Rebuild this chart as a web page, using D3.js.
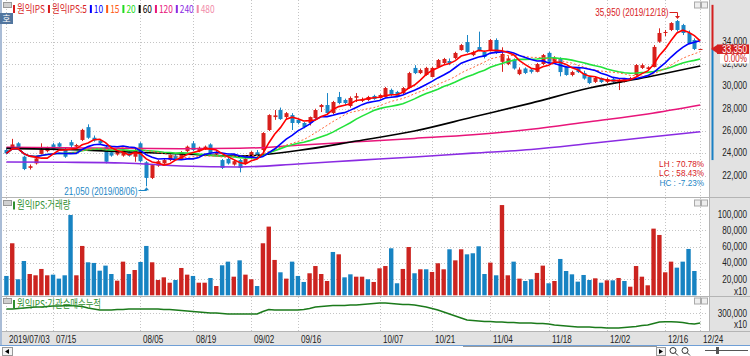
<!DOCTYPE html>
<html><head><meta charset="utf-8">
<script src="https://cdn.jsdelivr.net/npm/d3@7"></script>
<style>html,body{margin:0;padding:0;background:#fff;}svg{display:block;}</style>
</head><body><svg id="chart" width="750" height="356"></svg>
<script>
// ---------- DATA ----------
const stockName = "원익IPS";
const dates = [
"07/03","07/04","07/05","07/08","07/09","07/10","07/11","07/12","07/15","07/16","07/17","07/18","07/19","07/22","07/23","07/24","07/25","07/26","07/29","07/30","07/31",
"08/01","08/02","08/05","08/06","08/07","08/08","08/09","08/12","08/13","08/14","08/16","08/19","08/20","08/21","08/22","08/23","08/26","08/27","08/28","08/29","08/30",
"09/02","09/03","09/04","09/05","09/06","09/09","09/10","09/11","09/16","09/17","09/18","09/19","09/20","09/23","09/24","09/25","09/26","09/27","09/30",
"10/01","10/02","10/04","10/07","10/08","10/10","10/11","10/14","10/15","10/16","10/17","10/18","10/21","10/22","10/23","10/24","10/25","10/28","10/29","10/30","10/31",
"11/01","11/04","11/05","11/06","11/07","11/08","11/11","11/12","11/13","11/14","11/15","11/18","11/19","11/20","11/21","11/22","11/25","11/26","11/27","11/28","11/29",
"12/02","12/03","12/04","12/05","12/06","12/09","12/10","12/11","12/12","12/13","12/16","12/17","12/18","12/19","12/20","12/23","12/24"];
const year = "2019";

const open = [24300,24400,24900,23700,22700,23100,23950,24200,24800,24900,
24400,25000,24600,25200,26350,25400,25150,24560,24100,23900,
23800,24100,23700,24900,23200,21800,22900,23100,23400,23800,
23500,24200,24900,24200,24400,24800,23900,23400,23500,23000,
23400,23100,23670,24100,24300,26090,27250,27880,27250,27430,
26990,26720,26720,27160,28150,28330,27610,29050,28780,28240,
28980,28700,28780,29140,28960,29050,29680,29500,29400,29850,
31650,31190,31020,30840,31730,32090,32270,32540,33250,33970,
32800,33520,33080,33250,34150,32200,32000,32400,31100,31600,
31500,31300,32000,33000,32200,32540,31730,31020,31650,31200,
30840,30400,30750,30400,30650,30300,30400,30600,31020,31650,
31550,31730,34000,34780,35050,35850,35490,34780,34150,33350];
const high = [24450,25300,25000,23800,23000,23650,24900,24600,24950,25000,
24500,25200,24850,26200,26600,25600,25300,24700,24200,24300,
24400,24200,24400,25000,23300,23000,23400,23500,23900,23900,
24200,24700,25100,24600,24700,24900,24200,23500,23600,23400,
23500,23600,24200,24300,25900,27500,27880,28100,27700,27600,
27100,26800,27300,28000,28420,29400,28700,29500,28900,29100,
29400,29000,29150,29250,29300,29950,29800,29600,29950,31300,
31900,31600,31750,31750,32450,32550,32500,33100,33800,34600,
33200,34900,33200,34250,34300,33500,32700,32500,31700,31700,
31600,32100,32900,33100,32700,32600,31800,31400,31750,31400,
30950,30900,30800,30800,30750,30650,30750,30850,32000,32050,
31800,33700,35200,35050,35750,35950,35600,35000,34300,33350];
const low = [23900,24300,24400,22500,22550,23000,23900,24100,24300,24500,
23600,24500,24500,25100,25300,25050,24800,23100,23700,23800,
23700,23700,23250,23200,21050,21700,22800,23000,23300,23400,
23450,24100,24200,24100,24300,23900,23800,22600,23000,22900,
22300,23000,23500,23600,24000,26000,27000,27000,27100,26090,
26600,26250,26500,27100,27700,27550,27500,28400,28300,28100,
28600,28600,28700,28800,28900,29000,29100,29050,29300,29800,
31100,31100,30950,30800,31700,32000,31900,32450,33200,33000,
32700,33150,32500,33150,32900,31300,31900,31500,31000,31100,
31150,31250,31900,32100,32100,30900,30950,30900,31200,30600,
30200,30300,30300,30300,30300,29670,30350,30550,30950,31550,
31450,31700,33900,34500,34950,34900,34600,33800,33250,33350];
const close = [24000,24800,24500,22600,22850,23550,24350,24500,24400,24600,
23700,24700,24750,26100,25400,25150,24900,23250,23800,24200,
24300,23800,24300,23300,21800,22950,23300,23400,23850,23500,
24100,24600,24300,24500,24600,24000,24100,22700,23100,23300,
22700,23500,24120,23800,25820,27430,27400,27070,27600,26720,
26720,26360,27250,27880,28330,27610,28600,28510,28510,28960,
29130,28870,29050,28870,29230,29850,29230,29140,29850,31190,
31190,31460,31650,31650,32360,32450,32090,32990,33700,33080,
33080,33250,32630,34150,33000,32900,32500,31600,31500,31200,
31300,32000,32800,32200,32540,31280,31020,31280,31280,30700,
30300,30750,30390,30650,30400,30500,30650,30750,31910,31900,
31700,33530,34780,34870,35670,35050,34780,33880,33350,33350];

// volume (chart units, x10)
const volume = [23800,64000,19700,42200,26200,24600,32400,24600,25400,20500,
24600,98800,24600,60700,40600,39800,30300,36500,26200,18000,
41400,26200,31100,41000,60700,40600,18800,22100,15500,18800,
33600,25400,23800,15500,15500,21300,11400,36900,41400,22900,
43000,25400,19700,11400,64000,84500,43500,28300,20500,41400,
23800,16400,27100,36000,26200,17600,53300,50400,22100,25800,
22900,22900,19700,16400,33200,36000,57800,14800,32400,59400,
27100,32000,32000,28700,39400,32000,56600,43000,56600,50400,
51700,60300,26200,40200,24600,111000,24600,41400,20500,17600,
19700,27500,36500,14800,17600,44700,29900,25800,16800,25000,
18800,20900,15500,18400,18400,21300,17600,10600,36000,22900,
12300,82000,74200,28300,41400,34000,41400,57000,29900,0];
// volume bar direction: 1 = up (red), -1 = down (blue)
const volDir = [-1,1,-1,-1,1,1,1,1,-1,-1,
-1,-1,1,1,-1,-1,-1,-1,-1,1,
1,-1,1,-1,-1,1,1,1,1,-1,
1,1,-1,1,1,-1,1,-1,-1,1,
-1,1,1,-1,1,1,1,-1,1,-1,
-1,-1,1,1,1,1,-1,1,-1,-1,
1,1,-1,1,1,1,-1,-1,1,1,
-1,1,-1,1,1,1,-1,1,1,-1,
-1,-1,-1,1,-1,1,1,-1,1,-1,
-1,1,1,-1,1,-1,-1,-1,-1,-1,
-1,1,-1,1,-1,1,-1,1,1,1,
1,1,1,1,1,-1,-1,-1,-1,1];

// institutional cumulative net buying (x10)
const instCum = [340000,340000,345000,350000,355000,360000,360000,365000,370000,370000,
373000,375000,370000,365000,350000,340000,330000,330000,330000,335000,
335000,340000,340000,340000,340000,340000,340000,335000,335000,330000,
325000,320000,315000,310000,305000,300000,300000,295000,290000,290000,
290000,290000,290000,290000,315000,335000,330000,330000,330000,330000,
330000,335000,345000,360000,365000,370000,375000,375000,375000,380000,
380000,385000,390000,395000,400000,400000,395000,390000,385000,385000,
380000,370000,360000,345000,330000,310000,290000,270000,250000,230000,
225000,220000,215000,215000,210000,210000,205000,205000,200000,200000,
200000,195000,195000,190000,180000,175000,170000,165000,160000,160000,
160000,155000,155000,150000,150000,150000,155000,160000,165000,175000,
180000,195000,210000,213000,213000,210000,205000,195000,190000,200000];

// long moving averages read at sample points
const longMaIdx = [0,10,20,30,40,50,60,70,80,90,100,110,119];
const ma60  = [24450,24350,24150,23950,23750,24250,25100,26000,27250,28500,29850,30840,31820];
const ma120 = [24550,24500,24450,24420,24450,24720,25030,25340,25660,26150,26840,27530,28330];
const ma240 = [23230,23200,23140,22870,22780,23050,23370,23680,24020,24350,24880,25440,25940];

const priceTicks = [22000,24000,26000,28000,30000,32000,34000];
const volTicks = [20000,40000,60000,80000,100000];
const instTicks = [300000];
const xTickDates = ["07/03","07/15","08/05","08/19","09/02","09/16","10/07","10/21","11/04","11/18","12/02","12/16","12/24"];
const priceGauge = [37300, 23400];

const legendItems = [
  {t:"원익IPS", c:"#d81e1e"}, {t:"원익IPS:5", c:"#d81e1e"}, {t:"10", c:"#0000ff"},
  {t:"15", c:"#ff5a14"}, {t:"20", c:"#22dd22"}, {t:"60", c:"#000000"},
  {t:"120", c:"#e8157a"}, {t:"240", c:"#8a2be2"}, {t:"480", c:"#f28caa"}];

// ---------- DRAW ----------
const svg = d3.select("#chart");
const FN = "'Liberation Sans',Arial,sans-serif";
const FK = "'Noto Sans CJK KR','Noto Sans',sans-serif";
const RED = "#d8201c", BLUE = "#1a86c6";
const PR = 708;
const SQ = 0.74; // horizontal condensing: the original uses a narrow bitmap font

function ntext(parent, xx, yy, str, o){
  o = o || {};
  const f = o.f || SQ;
  const g = parent.append("g").attr("transform",`translate(${xx},${yy}) scale(${f},1)`);
  const t = g.append("text").attr("x",0).attr("y",0)
    .attr("text-anchor",o.anchor||"start")
    .attr("font-family",o.font||FN).attr("font-size",o.size||11)
    .attr("fill",o.fill||"#222").text(str);
  return t.node().getComputedTextLength()*f;
}

const x = d3.scalePoint().domain(dates).range([6.4, 700.2]);
const y = d3.scaleLinear().domain([22000, 34000]).range([175.7, 41.7]);
const yV = d3.scaleLinear().domain([0, 100000]).range([295.3, 214]);
const yI = d3.scaleLinear().domain([50000, 450000]).range([338, 298]);
const fmt = d3.format(",");

svg.append("rect").attr("width",750).attr("height",356).attr("fill","#fff");
svg.append("rect").attr("x",709).attr("y",0).attr("width",41).attr("height",345).attr("fill","#e2e2e2");
svg.append("rect").attr("x",0).attr("y",331).attr("width",709).attr("height",14).attr("fill","#e2e2e2");

const defs = svg.append("defs");
[["cMain",0,0,709,197],["cVol",0,198,709,98],["cInst",0,297,709,34]].forEach(c=>{
  defs.append("clipPath").attr("id",c[0]).append("rect").attr("x",c[1]).attr("y",c[2]).attr("width",c[3]).attr("height",c[4]);
});

// grids
const grid = svg.append("g").attr("stroke","#c4c4c4").attr("stroke-dasharray","1,2").attr("stroke-width",1);
xTickDates.forEach(d=>{
  const xx = Math.round(x(d))+0.5;
  grid.append("line").attr("x1",xx).attr("x2",xx).attr("y1",0).attr("y2",331);
});
priceTicks.forEach(p=>{ const yy=Math.round(y(p))+0.5; grid.append("line").attr("x1",3).attr("x2",PR).attr("y1",yy).attr("y2",yy); });
volTicks.forEach(v=>{ const yy=Math.round(yV(v))+0.5; grid.append("line").attr("x1",3).attr("x2",PR).attr("y1",yy).attr("y2",yy); });
instTicks.forEach(v=>{ const yy=Math.round(yI(v))+0.5; grid.append("line").attr("x1",3).attr("x2",PR).attr("y1",yy).attr("y2",yy); });

// panel borders
const bd = svg.append("g").attr("stroke","#b4b4b4").attr("stroke-width",1);
bd.append("line").attr("x1",0).attr("x2",750).attr("y1",197.5).attr("y2",197.5);
bd.append("line").attr("x1",0).attr("x2",750).attr("y1",296.5).attr("y2",296.5);
bd.append("line").attr("x1",0).attr("x2",750).attr("y1",331.5).attr("y2",331.5);
bd.append("line").attr("x1",709.5).attr("x2",709.5).attr("y1",0).attr("y2",331);
svg.append("line").attr("x1",1).attr("x2",1).attr("y1",0).attr("y2",345).attr("stroke","#a9bcd6").attr("stroke-width",2);
svg.append("line").attr("x1",0).attr("x2",750).attr("y1",345.5).attr("y2",345.5).attr("stroke","#6f9fd6");

// candles
const main = svg.append("g").attr("clip-path","url(#cMain)");
const idx = d3.range(dates.length);
const cg = main.append("g");
idx.forEach(i=>{
  const up = close[i] >= open[i];
  const col = up ? RED : BLUE;
  const cx = Math.round(x(dates[i]));
  cg.append("line").attr("x1",cx+0.5).attr("x2",cx+0.5).attr("y1",y(high[i])).attr("y2",y(low[i])).attr("stroke",col).attr("stroke-width",1);
  const y0 = y(Math.max(open[i],close[i])), y1 = y(Math.min(open[i],close[i]));
  cg.append("rect").attr("x",cx-1.5).attr("y",y0).attr("width",4).attr("height",Math.max(1,y1-y0)).attr("fill",col);
});

// moving averages
function movingAvg(vals,n){ return vals.map((_,i)=>d3.mean(vals.slice(Math.max(0,i-n+1),i+1))); }
const lineIdx = d3.line().x((d,i)=>x(dates[i])).y(d=>y(d));
const lineLong = d3.line().x((d,i)=>x(dates[longMaIdx[i]])).y(d=>y(d)).curve(d3.curveMonotoneX);
main.append("path").attr("d",lineLong(ma240)).attr("fill","none").attr("stroke","#8a2be2").attr("stroke-width",1.6);
main.append("path").attr("d",lineLong(ma120)).attr("fill","none").attr("stroke","#e8157a").attr("stroke-width",1.5);
main.append("path").attr("d",lineLong(ma60)).attr("fill","none").attr("stroke","#000").attr("stroke-width",1.6);
main.append("path").attr("d",lineIdx(movingAvg(close,20))).attr("fill","none").attr("stroke","#22e23a").attr("stroke-width",1.6);
main.append("path").attr("d",lineIdx(movingAvg(close,15))).attr("fill","none").attr("stroke","#ff6a3a").attr("stroke-width",1).attr("stroke-dasharray","2,2");
main.append("path").attr("d",lineIdx(movingAvg(close,10))).attr("fill","none").attr("stroke","#0000ff").attr("stroke-width",1.6);
main.append("path").attr("d",lineIdx(movingAvg(close,5))).attr("fill","none").attr("stroke","#ff0000").attr("stroke-width",1.6);

// high / low annotations
const hiI = d3.maxIndex(high), loI = d3.minIndex(low);
const hx = Math.round(x(dates[hiI]))+0.5, hy = y(high[hiI]);
ntext(svg, hx-9, 16, `${fmt(high[hiI])} (${year}/${dates[hiI]})`, {anchor:"end", fill:RED});
svg.append("path").attr("d",`M${hx-8},12.5H${hx}V${hy-2}`).attr("fill","none").attr("stroke",RED);
svg.append("path").attr("d",`M${hx-2.5},${hy-4}L${hx+2.5},${hy-4}L${hx},${hy-1}Z`).attr("fill",RED);
const lx = Math.round(x(dates[loI]))+0.5, ly = y(low[loI]);
ntext(svg, lx-9, 194.5, `${fmt(low[loI])} (${year}/${dates[loI]})`, {anchor:"end", fill:BLUE});
svg.append("path").attr("d",`M${lx-8},190.5H${lx}V${ly+2}`).attr("fill","none").attr("stroke",BLUE);
svg.append("path").attr("d",`M${lx-2.5},${ly+4}L${lx+2.5},${ly+4}L${lx},${ly+1}Z`).attr("fill",BLUE);

// LH / LC / HC
const last = close[close.length-1], prev = close[close.length-2];
const stats = [
  ["LH", (high[hiI]-low[loI])/low[loI]*100, RED],
  ["LC", (last-low[loI])/low[loI]*100, RED],
  ["HC", (last-high[hiI])/high[hiI]*100, BLUE]];
stats.forEach((s,k)=>{
  ntext(svg, 704, 166.5+k*9.5, `${s[0]} : ${s[1].toFixed(2)}%`, {anchor:"end", fill:s[2], size:9.5, f:0.86});
});

// volume bars
const vol = svg.append("g").attr("clip-path","url(#cVol)");
idx.forEach(i=>{
  if(!volume[i]) return;
  const cx = x(dates[i]);
  vol.append("rect").attr("x",cx-2.2).attr("y",yV(volume[i])).attr("width",4.4).attr("height",yV(0)-yV(volume[i]))
    .attr("fill",volDir[i]>0?"#cc2420":"#1783c2");
});

// institutional cumulative line
svg.append("g").attr("clip-path","url(#cInst)").append("path")
  .attr("d",d3.line().x((d,i)=>x(dates[i])).y(d=>yI(d))(instCum))
  .attr("fill","none").attr("stroke","#1b7a1b").attr("stroke-width",1.5);

// right axis labels
const ax = svg.append("g");
priceTicks.forEach(p=>ntext(ax, 747, y(p)+3, fmt(p), {anchor:"end"}));
volTicks.forEach(v=>ntext(ax, 747, yV(v)+3.5, fmt(v), {anchor:"end"}));
ntext(ax, 747, yV(0)-0.5, "x10", {anchor:"end"});
instTicks.forEach(v=>ntext(ax, 747, yI(v)+3.5, fmt(v), {anchor:"end"}));
ntext(ax, 747, yI(instTicks[0])+15, "x10", {anchor:"end"});

// price gauge bar + current price tag
const cy = y(last);
svg.append("line").attr("x1",712.5).attr("x2",712.5).attr("y1",y(priceGauge[0])).attr("y2",cy).attr("stroke","#d42020").attr("stroke-width",2);
svg.append("line").attr("x1",712.5).attr("x2",712.5).attr("y1",cy).attr("y2",y(priceGauge[1])).attr("stroke","#1a80c4").attr("stroke-width",2);
svg.append("path").attr("d",`M711,${cy}L717,${cy-4}L717,${cy+4}Z`).attr("fill","#d42020");
svg.append("rect").attr("x",717).attr("y",cy-4.5).attr("width",32).attr("height",9.5).attr("fill","#d42020");
ntext(svg, 747, cy+3.8, fmt(last), {anchor:"end", fill:"#fff", size:10.5, f:0.77});
svg.append("rect").attr("x",720).attr("y",cy+5).attr("width",29).attr("height",9.5).attr("fill","#fff");
ntext(svg, 747, cy+13.3, ((last-prev)/prev*100).toFixed(2)+"%", {anchor:"end", fill:"#d42020", size:10.5, f:0.77});

// x axis labels
xTickDates.forEach((d,k)=>{
  ntext(svg, Math.round(x(d))+3, 342.5, k===0 ? `${year}/${d}` : d);
});

// legend
const lg = svg.append("g");
let lxp = 13;
legendItems.forEach(it=>{
  lg.append("rect").attr("x",lxp).attr("y",5).attr("width",2).attr("height",8).attr("fill",it.c);
  const w = ntext(lg, lxp+4, 12.5, it.t, {font:FK, fill:it.c, f:0.76});
  lxp += 4 + w + 3;
});
// small icons
function panelIcon(yy){
  svg.append("rect").attr("x",3.5).attr("y",yy+0.5).attr("width",8).attr("height",5).attr("fill","#d0d0d0").attr("stroke","#999");
  svg.append("rect").attr("x",694.5).attr("y",yy).attr("width",6).attr("height",6).attr("fill","#eee").attr("stroke","#aaa");
  svg.append("rect").attr("x",701.5).attr("y",yy).attr("width",6).attr("height",6).attr("fill","#eee").attr("stroke","#aaa");
}
panelIcon(2); panelIcon(200); panelIcon(298);
svg.append("rect").attr("x",0).attr("y",13).attr("width",13).attr("height",11).attr("fill","#52769f");
svg.append("text").attr("x",6.5).attr("y",22).attr("text-anchor","middle").attr("font-family",FK).attr("font-size",9).attr("fill","#fff").text("호");

const sub = [[`${stockName}:거래량`,209],[`${stockName}:기관순매수누적`,307.5]];
sub.forEach(s=>{
  svg.append("rect").attr("x",13).attr("y",s[1]-7.5).attr("width",2).attr("height",8).attr("fill","#2f8f2f");
  ntext(svg, 17, s[1], s[0], {font:FK, fill:"#2f8f2f", f:0.76});
});

// bottom scroll strip
svg.append("rect").attr("x",2.5).attr("y",347.5).attr("width",10).attr("height",8).attr("fill","#f4f4f4").attr("stroke","#999");
svg.append("path").attr("d","M5,351.5L9,349L9,354Z").attr("fill","#000");
svg.append("line").attr("x1",463).attr("x2",657).attr("y1",346.5).attr("y2",346.5).attr("stroke","#999");
svg.append("rect").attr("x",656.5).attr("y",347.5).attr("width",9).attr("height",8).attr("fill","#f4f4f4").attr("stroke","#999");
svg.append("path").attr("d","M659,349L663,351.5L659,354Z").attr("fill","#000");
[673,685].forEach(cx=>{
  svg.append("circle").attr("cx",cx).attr("cy",350.5).attr("r",3).attr("fill","none").attr("stroke","#333");
  svg.append("line").attr("x1",cx+2).attr("x2",cx+5).attr("y1",352.5).attr("y2",355.5).attr("stroke","#333");
});
svg.append("line").attr("x1",705).attr("x2",748).attr("y1",350.5).attr("y2",350.5).attr("stroke","#555");
svg.append("rect").attr("x",716).attr("y",347).attr("width",3).attr("height",7).attr("fill","#555");
</script></body></html>
